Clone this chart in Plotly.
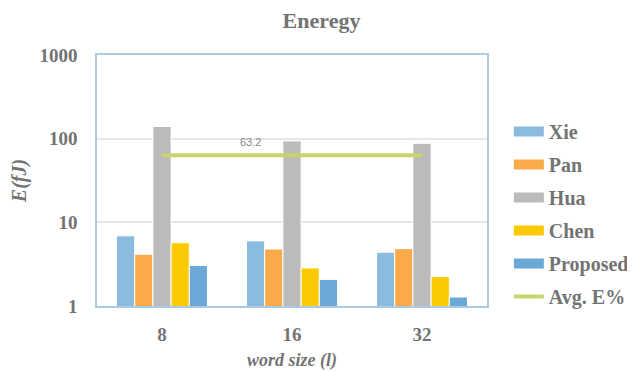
import plotly.graph_objects as go

categories = ["8", "16", "32"]
xie = [6.9, 6.0, 4.4]
pan = [4.15, 4.8, 4.85]
hua = [140, 94, 88]
chen = [5.7, 2.85, 2.25]
proposed = [3.05, 2.08, 1.28]
avg_e = [63.2, 63.2, 63.2]
avg_label = "63.2"

series = [
    ("Xie", xie, "#8BBCDE"),
    ("Pan", pan, "#FBAA4A"),
    ("Hua", hua, "#BBBBBB"),
    ("Chen", chen, "#FBCA03"),
    ("Proposed", proposed, "#6AA8D5"),
]

txt = "#737373"
serif = "Liberation Serif, Times New Roman, serif"

fig = go.Figure()
for i, (name, vals, col) in enumerate(series):
    fig.add_trace(go.Bar(
        x=categories, y=vals, name=name, showlegend=False,
        marker=dict(color=col, line=dict(color="white", width=1)),
    ))
    # wide rectangular legend swatch
    fig.add_trace(go.Scatter(
        x=[None], y=[None], mode="lines", name=f"<b>{name}</b>", legendgroup=f"g{i}",
        line=dict(color=col, width=10), hoverinfo="skip",
    ))
fig.add_trace(go.Scatter(
    x=categories, y=avg_e, name="<b>Avg. E%</b>", mode="lines", legendgroup="g5",
    line=dict(color="#C9D56B", width=4),
))

fig.add_annotation(
    x=0.68, y=1.96, xref="x", yref="y", text=avg_label, showarrow=False,
    font=dict(family="Liberation Sans, Arial, sans-serif", size=11, color="#888888"),
)

# page body has an 8px margin, so the figure is sized to fit the window
fig.update_layout(
    width=627, height=363,
    margin=dict(l=89, r=148, t=47, b=65, autoexpand=False),
    paper_bgcolor="white", plot_bgcolor="white",
    barmode="group", bargap=0.3, bargroupgap=0,
    title=dict(text="<b>Eneregy</b>", x=0.5, xanchor="center", y=1 - 12.5 / 363, yanchor="middle",
               yref="container", font=dict(family=serif, size=22, color=txt)),
    font=dict(family=serif, color=txt),
    legend=dict(x=1.056, y=0.3665, xanchor="left", yanchor="middle",
                font=dict(family=serif, size=20, color=txt),
                tracegroupgap=4, itemwidth=30),
    showlegend=True,
)
fig.update_xaxes(
    type="category", showline=True, linecolor="#A9CBE6", linewidth=1.5, mirror=True,
    ticks="", tickfont=dict(family=serif, size=19, color=txt), ticklabelstandoff=10,
    tickprefix="<b>", ticksuffix="</b>", automargin=False,
    title=dict(text="<b><i>word size (l)</i></b>", font=dict(family=serif, size=18, color=txt), standoff=21),
)
fig.update_yaxes(
    type="log", range=[0, 3], tickvals=[1, 10, 100, 1000], ticktext=["<b>1</b>", "<b>10</b>", "<b>100</b>", "<b>1000</b>"],
    showline=True, linecolor="#A9CBE6", linewidth=1.5, mirror=True,
    showgrid=True, gridcolor="#E6E6E6", gridwidth=1.5, automargin=False,
    tickfont=dict(family=serif, size=19, color=txt), ticks="", ticklabelstandoff=14,
    title=dict(text="<b><i>E(fJ)</i></b>", font=dict(family=serif, size=20, color=txt), standoff=22),
)
fig.write_html("out.html")
